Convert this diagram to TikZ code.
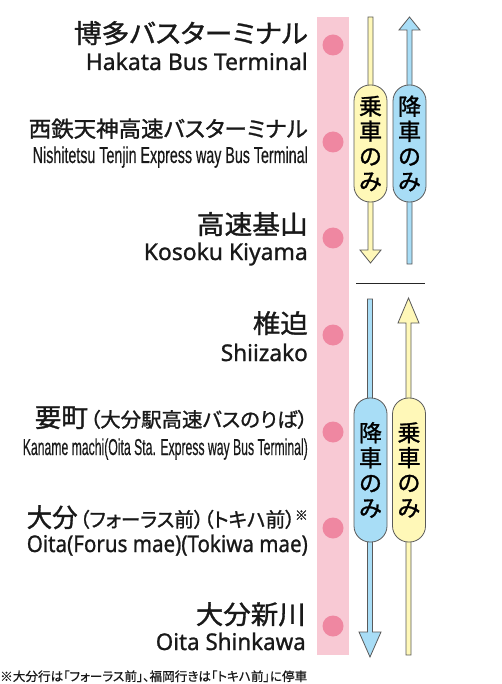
\documentclass[tikz,border=0pt]{standalone}
\usepackage{fontspec}
\usepackage{graphicx}
\newfontfamily\jp[RawFeature=+palt,FakeBold=1.2]{Noto Sans CJK JP}
\newfontfamily\jpn[RawFeature=+palt,FakeBold=0.6]{Noto Sans CJK JP}
\newfontfamily\jpv[FakeBold=1.2]{Noto Sans CJK JP}
\newfontfamily\en[FakeBold=1.0]{Noto Sans}
\newfontfamily\enc[FakeBold=0.5]{Liberation Sans}
\definecolor{bandpink}{HTML}{F8C9D4}
\definecolor{dotpink}{HTML}{EF87A1}
\definecolor{yel}{HTML}{FFF8B8}
\definecolor{blu}{HTML}{A8DDF6}
\definecolor{outl}{HTML}{5A5A5A}
\newcommand\fitw[2]{\resizebox{#1pt}{\height}{#2}}
\newcommand\fs[1]{\fontsize{#1}{#1}\selectfont}
\newcommand\capfont{\jpv\fontsize{23}{25}\selectfont}
\tikzset{
  dot/.style={circle,fill=dotpink,minimum size=21pt,inner sep=0pt},
  lbl/.style={anchor=base east,inner sep=0pt,text=black!90},
  arrowbody/.style={draw=outl,line width=0.8pt,line join=miter},
  capsule/.style={draw=outl,line width=0.8pt,rounded corners=16pt,minimum width=33pt,inner sep=0pt,align=center,font=\capfont}
}
\begin{document}
\begin{tikzpicture}[x=1pt,y=-1pt]
\useasboundingbox (0,0) rectangle (501,684);
\fill[white] (0,0) rectangle (501,684);
% band
\fill[bandpink] (317,17) rectangle (349,655);
% dots
\foreach \y/\n in {45/d1,142/d2,238/d3,335/d4,432/d5,528/d6,626/d7}
  \node[dot] (\n) at (333,\y) {};
% labels top
\node[lbl] (s1j) at (308,43) {\fitw{234}{\jp\fs{26}博多バスターミナル}};
\node[lbl] (s1e) at (308,70) {\fitw{222}{\en\fs{23}Hakata Bus Terminal}};
\node[lbl] (s2j) at (308,137) {\fitw{279}{\jp\fs{22}西鉄天神高速バスターミナル}};
\node[lbl] (s2e) at (308,163) {\fitw{275}{\enc\fs{23}Nishitetsu Tenjin Express way Bus Terminal}};
\node[lbl] (s3j) at (308,234) {\fitw{111}{\jp\fs{26}高速基山}};
\node[lbl] (s3e) at (308,260) {\fitw{164}{\en\fs{23}Kosoku Kiyama}};
% labels bottom
\node[lbl] (s4j) at (308,333) {\fitw{55}{\jp\fs{26}椎迫}};
\node[lbl] (s4e) at (308,361) {\fitw{87}{\en\fs{23}Shiizako}};
\node[lbl] (s5j) at (308,427) {\fitw{273}{\jp\fs{26}要町\kern2pt\fs{20}（大分駅高速バスのりば）}};
\node[lbl] (s5e) at (308,455) {\fitw{285}{\enc\fs{23}Kaname machi(Oita Sta. Express way Bus Terminal)}};
\node[lbl] (s6j) at (308,527) {\fitw{281}{\jp\fs{26}大分\kern2pt\fs{20}（フォーラス前）（トキハ前）\raisebox{7pt}{\fs{13}※}}};
\node[lbl] (s6e) at (308,552) {\fitw{281}{\en\fs{23}Oita(Forus mae)(Tokiwa mae)}};
\node[lbl] (s7j) at (306,624) {\fitw{110}{\jp\fs{26}大分新川}};
\node[lbl] (s7e) at (306,650) {\fitw{150}{\en\fs{23}Oita Shinkawa}};
% footnote
\node[anchor=base west,inner sep=0pt,text=black!90] (note) at (0,681) {\fitw{307}{\jpn\fs{12.5}※大分行は「フォーラス前」、福岡行きは「トキハ前」に停車}};
% top arrows
\path[arrowbody,fill=yel] (368,17) -- (373,17) -- (373,250) -- (381,250) -- (370.5,263) -- (360,250) -- (368,250) -- cycle;
\path[arrowbody,fill=blu] (409.5,17) -- (420,30) -- (412,30) -- (412,264) -- (407,264) -- (407,30) -- (399,30) -- cycle;
\node[capsule,fill=yel,minimum height=117pt] (c1) at (370.5,143.5) {乗\\車\\の\\み};
\node[capsule,fill=blu,minimum height=117pt] (c2) at (409.5,143.5) {降\\車\\の\\み};
% separator
\coordinate (sepL) at (356,283);
\coordinate (sepR) at (425,283);
\draw[line width=0.9pt,black!85] (sepL) -- (sepR);
% bottom arrows
\path[arrowbody,fill=blu] (367.5,299) -- (372.5,299) -- (372.5,632) -- (381,632) -- (370,657) -- (359,632) -- (367.5,632) -- cycle;
\path[arrowbody,fill=yel] (408.5,298) -- (419,323) -- (411,323) -- (411,655) -- (406,655) -- (406,323) -- (398,323) -- cycle;
\node[capsule,fill=blu,minimum height=144pt] (c3) at (370.5,470) {降\\車\\の\\み};
\node[capsule,fill=yel,minimum height=144pt] (c4) at (409,470) {乗\\車\\の\\み};
\end{tikzpicture}
\end{document}
